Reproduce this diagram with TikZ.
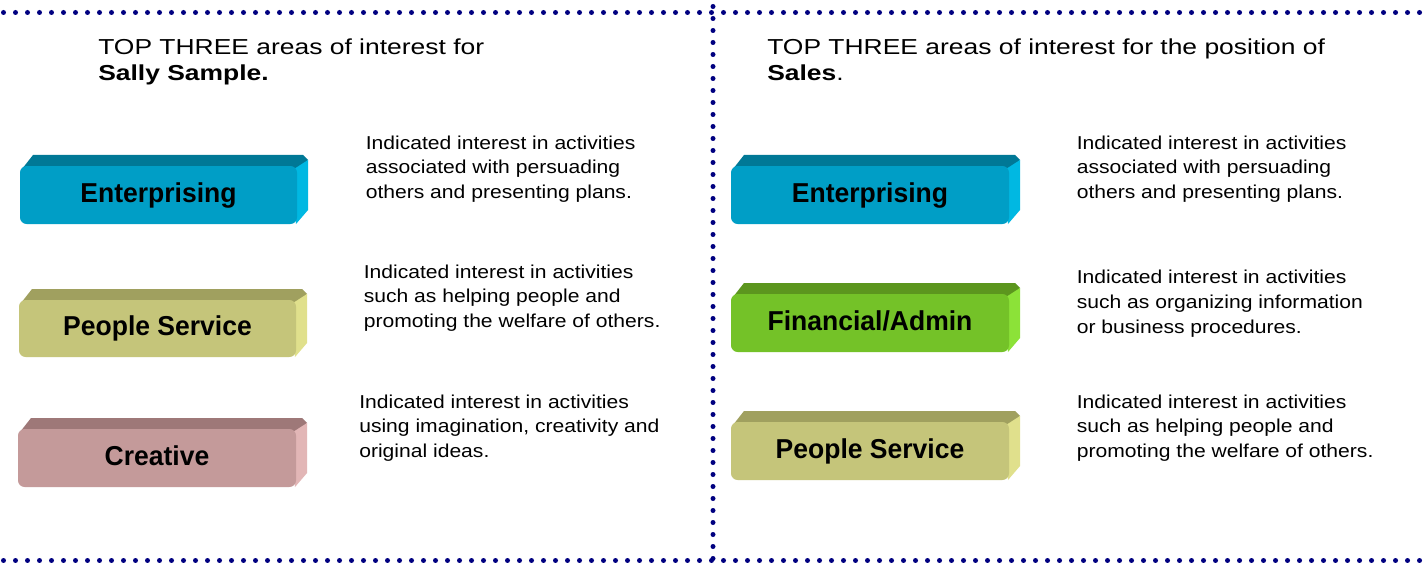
\documentclass[tikz,border=0pt]{standalone}
\usepackage{fontspec}
\setmainfont{Liberation Sans}
\newfontfamily\hdfont[FakeStretch=1.22]{Liberation Sans}
\newfontfamily\bdfont[FakeStretch=1.13]{Liberation Sans}
\newfontfamily\lbfont[FakeStretch=0.97]{Liberation Sans}
\definecolor{dotblue}{RGB}{0,0,128}
\definecolor{entfront}{RGB}{0,158,198}
\definecolor{enttop}{RGB}{0,120,150}
\definecolor{entside}{RGB}{0,184,226}
\definecolor{psfront}{RGB}{197,197,122}
\definecolor{pstop}{RGB}{160,160,95}
\definecolor{psside}{RGB}{224,224,140}
\definecolor{crfront}{RGB}{196,154,154}
\definecolor{crtop}{RGB}{158,120,120}
\definecolor{crside}{RGB}{226,182,182}
\definecolor{fafront}{RGB}{116,194,40}
\definecolor{fatop}{RGB}{92,150,30}
\definecolor{faside}{RGB}{140,226,56}
\newcommand\bevelbox[7]{%
  \fill[#6top] (#2+2,#3+3) -- (#2+13,#3-11) -- (#4+6,#3-11) -- (#4+11,#3-6) -- (#4,#3+3) -- cycle;
  \fill[#6side] (#4-3,#3+3) -- (#4+11,#3-6) -- (#4+11,#5-14) -- (#4-1,#5) -- cycle;
  \node[frontface, fill=#6front, minimum width={(#4-#2)*0.75pt}, minimum height={(#5-#3)*0.75pt}]
    (#1) at ({(#2+#4)/2},{(#3+#5)/2}) {\raisebox{3pt}{#7}};
}
\begin{document}
\begin{tikzpicture}[x=0.75pt,y=-0.75pt,
  frontface/.style={rectangle, rounded corners=5pt, inner sep=0pt,
    font=\lbfont\bfseries\fontsize{20.5}{24}\selectfont, text=black},
  headtext/.style={anchor=north west, inner sep=0pt, align=left,
    font=\hdfont\fontsize{16.25}{19.5}\selectfont},
  bodytext/.style={anchor=north west, inner sep=0pt, align=left,
    font=\bdfont\fontsize{14}{18.5}\selectfont},
  dotline/.style={draw=dotblue, line width=3.75pt, line cap=round, dash pattern=on 0pt off 9pt}]
\useasboundingbox (0,0) rectangle (1426,563);
\fill[white] (0,0) rectangle (1426,563);
% dotted frame
\coordinate (tl) at (3.5,12.5);
\coordinate (tr) at (1426,12.5);
\coordinate (bl) at (3.5,560.5);
\coordinate (br) at (1426,560.5);
\coordinate (vt) at (713,6.5);
\coordinate (vb) at (713,560.5);
\draw[dotline] (tl) -- (tr);
\draw[dotline] (bl) -- (br);
\draw[dotline] (vt) -- (vb);
% headers
\node[headtext] (hl) at (98,38.5) {TOP THREE areas of interest for\\\textbf{Sally Sample.}};
\node[headtext] (hr) at (767,38.5) {TOP THREE areas of interest for the position of\\\textbf{Sales}.};
% left boxes
\bevelbox{le}{20}{166}{297}{224}{ent}{Enterprising}
\bevelbox{lp}{19}{300}{296}{357}{ps}{People Service}
\bevelbox{lc}{18}{429}{296}{487}{cr}{Creative}
% right boxes
\bevelbox{re}{731}{166}{1009}{224}{ent}{Enterprising}
\bevelbox{rf}{731}{294}{1009}{352}{fa}{Financial/Admin}
\bevelbox{rp}{731}{422}{1009}{480}{ps}{People Service}
% descriptions
\node[bodytext] (lt1) at (365.5,135.5) {Indicated interest in activities\\associated with persuading\\others and presenting plans.};
\node[bodytext] (lt2) at (363.5,264.5) {Indicated interest in activities\\such as helping people and\\promoting the welfare of others.};
\node[bodytext] (lt3) at (359,394.5) {Indicated interest in activities\\using imagination, creativity and\\original ideas.};
\node[bodytext] (rt1) at (1076.5,135.5) {Indicated interest in activities\\associated with persuading\\others and presenting plans.};
\node[bodytext] (rt2) at (1076.5,270) {Indicated interest in activities\\such as organizing information\\or business procedures.};
\node[bodytext] (rt3) at (1076.5,394.5) {Indicated interest in activities\\such as helping people and\\promoting the welfare of others.};
\end{tikzpicture}
\end{document}
